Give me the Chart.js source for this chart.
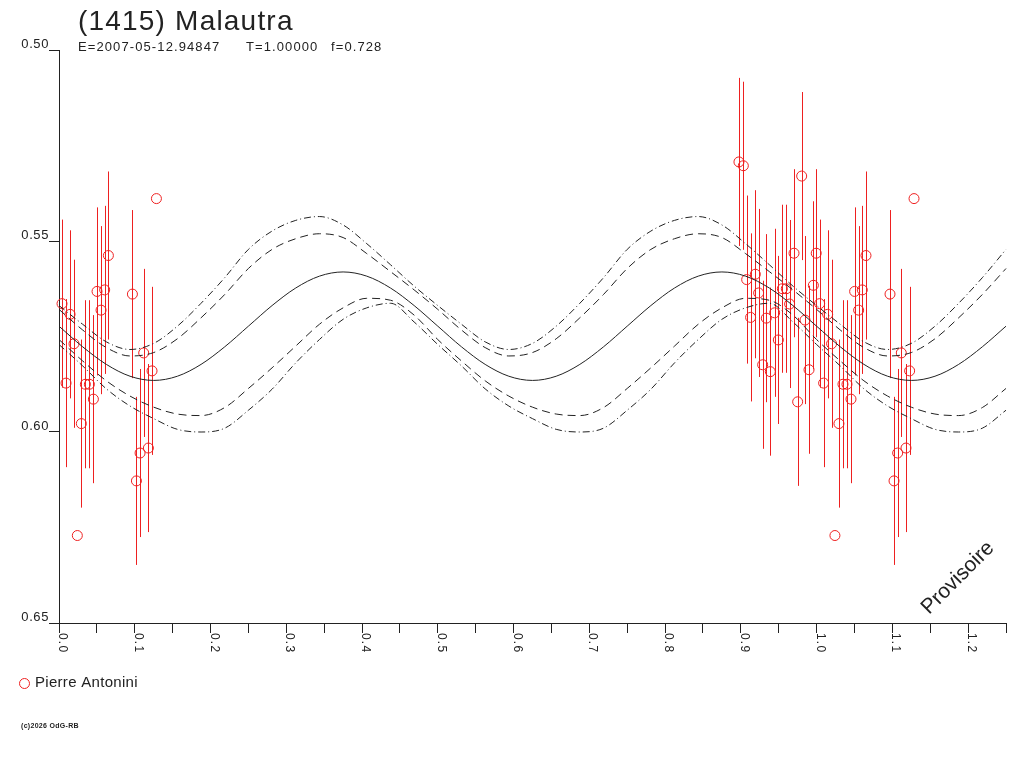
<!DOCTYPE html>
<html>
<head>
<meta charset="utf-8">
<title>(1415) Malautra</title>
<script src="https://cdn.jsdelivr.net/npm/chart.js@4.4.1/dist/chart.umd.min.js"></script>
<style>
    html, body { margin: 0; padding: 0; background: #fff; }
    canvas { display: block; }
</style>
</head>
<body>
<canvas id="lightcurve" width="1024" height="768"></canvas>
<script>
const chartTitle = '(1415) Malautra';
const subtitleParts = ['E=2007-05-12.94847', 'T=1.00000', 'f=0.728'];
const observerName = 'Pierre Antonini';
const stampText = 'Provisoire';
const copyrightText = '(c)2026 OdG-RB';

const yTickValues = [0.50, 0.55, 0.60, 0.65];
const yTickLabels = ['0.50', '0.55', '0.60', '0.65'];
const xTickValues = [0.0, 0.1, 0.2, 0.3, 0.4, 0.5, 0.6, 0.7, 0.8, 0.9, 1.0, 1.1, 1.2];
const xTickLabels = ['0.0', '0.1', '0.2', '0.3', '0.4', '0.5', '0.6', '0.7', '0.8', '0.9', '1.0', '1.1', '1.2'];

const obsPhase = [0.0040, 0.0093, 0.0146, 0.0198, 0.0242, 0.0295, 0.0348, 0.0401, 0.0454, 0.0502,
    0.0555, 0.0603, 0.0652, 0.0969, 0.1022, 0.1070, 0.1118, 0.1180, 0.1228, 0.1286,
    0.8975, 0.9033, 0.9077, 0.9129, 0.9191, 0.9235, 0.9288, 0.9336, 0.9389, 0.9446,
    0.9495, 0.9548, 0.9600, 0.9644, 0.9702, 0.9750, 0.9803, 0.9847, 0.9900, 0.9957, 0.9995];
const obsMag = [0.5664, 0.5872, 0.5692, 0.5769, 0.6271, 0.5978, 0.5875, 0.5875, 0.5914, 0.5632,
    0.5681, 0.5628, 0.5538, 0.5639, 0.6128, 0.6055, 0.5793, 0.6042, 0.5840, 0.5389,
    0.5293, 0.5303, 0.5601, 0.5700, 0.5587, 0.5636, 0.5824, 0.5702, 0.5842, 0.5688,
    0.5759, 0.5625, 0.5625, 0.5665, 0.5532, 0.5921, 0.5330, 0.5707, 0.5837, 0.5616, 0.5532];
const obsErr = [0.022, 0.022, 0.022, 0.022, 0, 0.022, 0.022, 0.022, 0.022, 0.022,
    0.022, 0.022, 0.022, 0.022, 0.022, 0.022, 0.022, 0.022, 0.022, 0,
    0.022, 0.022, 0.022, 0.022, 0.022, 0.022, 0.022, 0.022, 0.022, 0.022,
    0.022, 0.022, 0.022, 0.022, 0.022, 0.022, 0.022, 0.022, 0.022, 0.022, 0.022];

// fitted curve and its envelopes, sampled every 1/32 in phase
const curvePhase = [0, 0.03125, 0.0625, 0.09375, 0.125, 0.15625, 0.1875, 0.21875, 0.25, 0.28125,
    0.3125, 0.34375, 0.375, 0.40625, 0.4375, 0.46875, 0.5, 0.53125, 0.5625, 0.59375,
    0.625, 0.65625, 0.6875, 0.71875, 0.75, 0.78125, 0.8125, 0.84375, 0.875, 0.90625,
    0.9375, 0.96875, 1.0, 1.03125, 1.0625, 1.09375, 1.125, 1.15625, 1.1875, 1.21875, 1.25];
const fitCurve = [0.5723, 0.5777, 0.5823, 0.5854, 0.5865, 0.5854, 0.5823, 0.5777, 0.5723, 0.5669,
    0.5623, 0.5592, 0.5581, 0.5592, 0.5623, 0.5669, 0.5723, 0.5777, 0.5823, 0.5854,
    0.5865, 0.5854, 0.5823, 0.5777, 0.5723, 0.5669, 0.5623, 0.5592, 0.5581, 0.5592,
    0.5623, 0.5669, 0.5723, 0.5777, 0.5823, 0.5854, 0.5865, 0.5854, 0.5823, 0.5777, 0.5723];
const upperDashed = [0.5679, 0.5733, 0.5779, 0.5801, 0.5792, 0.5756, 0.5701, 0.5640, 0.5572, 0.5522,
    0.5494, 0.5481, 0.5491, 0.5533, 0.5580, 0.5628, 0.5679, 0.5733, 0.5779, 0.5801,
    0.5792, 0.5756, 0.5701, 0.5640, 0.5572, 0.5522, 0.5494, 0.5481, 0.5491, 0.5533,
    0.5580, 0.5628, 0.5679, 0.5733, 0.5779, 0.5801, 0.5792, 0.5756, 0.5701, 0.5640, 0.5572];
const upperDashDot = [0.5669, 0.5718, 0.5764, 0.5784, 0.5768, 0.5723, 0.5663, 0.5596, 0.5522, 0.5474,
    0.5446, 0.5436, 0.5458, 0.5507, 0.5562, 0.5618, 0.5669, 0.5718, 0.5764, 0.5784,
    0.5768, 0.5723, 0.5663, 0.5596, 0.5522, 0.5474, 0.5446, 0.5436, 0.5458, 0.5507,
    0.5562, 0.5618, 0.5669, 0.5718, 0.5764, 0.5784, 0.5768, 0.5723, 0.5663, 0.5596, 0.5522];
const lowerDashed = [0.5758, 0.5814, 0.5866, 0.5906, 0.5935, 0.5953, 0.5957, 0.5936, 0.5886, 0.5832,
    0.5775, 0.5718, 0.5675, 0.5650, 0.5655, 0.5694, 0.5758, 0.5814, 0.5866, 0.5906,
    0.5935, 0.5953, 0.5957, 0.5936, 0.5886, 0.5832, 0.5775, 0.5718, 0.5675, 0.5650,
    0.5655, 0.5694, 0.5758, 0.5814, 0.5866, 0.5906, 0.5935, 0.5953, 0.5957, 0.5936, 0.5886];
const lowerDashDot = [0.5771, 0.5827, 0.5887, 0.5932, 0.5965, 0.5993, 0.6000, 0.5990, 0.5943, 0.5888,
    0.5819, 0.5758, 0.5705, 0.5675, 0.5663, 0.5712, 0.5771, 0.5827, 0.5887, 0.5932,
    0.5965, 0.5993, 0.6000, 0.5990, 0.5943, 0.5888, 0.5819, 0.5758, 0.5705, 0.5675,
    0.5663, 0.5712, 0.5771, 0.5827, 0.5887, 0.5932, 0.5965, 0.5993, 0.6000, 0.5990, 0.5943];

const X_MIN = 0, X_MAX = 1.25;
const RED = 'rgb(238, 32, 32)';
const INK = '#222';
const FONT = '"Liberation Sans", Arial, sans-serif';

// each observation is shown at its phase and again one cycle later while it fits on the axis
const obsPoints = [];
obsPhase.forEach((p, i) => {
    [p, p + 1].forEach(x => {
        if (x >= X_MIN && x <= X_MAX) obsPoints.push({ x: x, y: obsMag[i], err: obsErr[i] });
    });
});

function curveData(values) {
    return curvePhase.map((p, i) => ({ x: p, y: values[i] }));
}

function curveSet(values, dash) {
    return {
        type: 'line',
        data: curveData(values),
        borderColor: INK,
        borderWidth: 1,
        borderDash: dash,
        pointRadius: 0,
        fill: false,
        cubicInterpolationMode: 'monotone',
        clip: false
    };
}

const errorBars = {
    id: 'errorBars',
    beforeDatasetsDraw(chart) {
        const ctx = chart.ctx;
        const xs = chart.scales.x, ys = chart.scales.y;
        ctx.save();
        ctx.strokeStyle = RED;
        ctx.lineWidth = 1;
        obsPoints.forEach(pt => {
            if (!pt.err) return;
            const px = Math.round(xs.getPixelForValue(pt.x)) + 0.5;
            ctx.beginPath();
            ctx.moveTo(px, ys.getPixelForValue(pt.y - pt.err));
            ctx.lineTo(px, ys.getPixelForValue(pt.y + pt.err));
            ctx.stroke();
        });
        ctx.restore();
    }
};

function spacedText(ctx, text, x, y, spacing) {
    ctx.letterSpacing = spacing + 'px';
    ctx.fillText(text, x, y);
    ctx.letterSpacing = '0px';
}

const annotations = {
    id: 'annotations',
    afterDraw(chart) {
        const ctx = chart.ctx;
        const xs = chart.scales.x, ys = chart.scales.y;
        ctx.save();
        ctx.fillStyle = INK;

        // title and elements line
        ctx.textAlign = 'left';
        ctx.textBaseline = 'alphabetic';
        ctx.font = '28px ' + FONT;
        spacedText(ctx, chartTitle, 78, 30, 1.2);
        ctx.font = '13px ' + FONT;
        spacedText(ctx, subtitleParts[0], 78, 51, 1.1);
        spacedText(ctx, subtitleParts[1], 246, 51, 1.1);
        spacedText(ctx, subtitleParts[2], 331, 51, 1.1);

        // y tick labels sit just above their tick
        ctx.font = '13px ' + FONT;
        ctx.textAlign = 'right';
        yTickValues.forEach((v, i) => {
            spacedText(ctx, yTickLabels[i], 49, ys.getPixelForValue(v) - 2, 0.6);
        });

        // x tick labels turned a quarter clockwise
        ctx.textAlign = 'left';
        ctx.font = '12px ' + FONT;
        xTickValues.forEach((v, i) => {
            ctx.save();
            ctx.translate(Math.round(xs.getPixelForValue(v)), ys.bottom + 10);
            ctx.rotate(Math.PI / 2);
            spacedText(ctx, xTickLabels[i], 0, 0, 1.2);
            ctx.restore();
        });

        // stamp
        ctx.save();
        ctx.translate(958, 578);
        ctx.rotate(-Math.PI / 4);
        ctx.textAlign = 'center';
        ctx.textBaseline = 'middle';
        ctx.font = '21px ' + FONT;
        ctx.fillText(stampText, 0, 0);
        ctx.restore();

        // legend
        ctx.strokeStyle = RED;
        ctx.lineWidth = 1;
        ctx.beginPath();
        ctx.arc(24.5, 683.5, 5, 0, Math.PI * 2);
        ctx.stroke();
        ctx.textAlign = 'left';
        ctx.textBaseline = 'middle';
        ctx.font = '15px ' + FONT;
        spacedText(ctx, observerName, 35, 683, 0.3);

        ctx.font = 'bold 7px ' + FONT;
        spacedText(ctx, copyrightText, 21, 726, 0.3);
        ctx.restore();
    }
};

new Chart(document.getElementById('lightcurve'), {
    type: 'scatter',
    data: {
        datasets: [
            curveSet(fitCurve, []),
            curveSet(upperDashed, [8, 5]),
            curveSet(lowerDashed, [8, 5]),
            curveSet(upperDashDot, [7, 3, 1, 3]),
            curveSet(lowerDashDot, [7, 3, 1, 3]),
            {
                type: 'scatter',
                data: obsPoints,
                pointStyle: 'circle',
                pointRadius: 5,
                pointBorderWidth: 1,
                pointBorderColor: RED,
                pointBackgroundColor: 'rgba(0,0,0,0)',
                clip: false
            }
        ]
    },
    options: {
        responsive: false,
        devicePixelRatio: 1,
        animation: false,
        events: [],
        layout: { padding: { left: 49, right: 18, top: 50, bottom: 135 } },
        plugins: {
            legend: { display: false },
            tooltip: { enabled: false },
            title: { display: false }
        },
        scales: {
            x: {
                type: 'linear',
                min: X_MIN,
                max: X_MAX,
                ticks: { display: false, stepSize: 0.05 },
                grid: { drawOnChartArea: false, drawTicks: true, tickLength: 10, color: INK, lineWidth: 1 },
                border: { display: true, color: INK, width: 1 }
            },
            y: {
                type: 'linear',
                reverse: true,
                min: 0.50,
                max: 0.65,
                ticks: { display: false, stepSize: 0.05 },
                grid: { drawOnChartArea: false, drawTicks: true, tickLength: 10, color: INK, lineWidth: 1 },
                border: { display: true, color: INK, width: 1 }
            }
        }
    },
    plugins: [errorBars, annotations]
});
</script>
</body>
</html>
